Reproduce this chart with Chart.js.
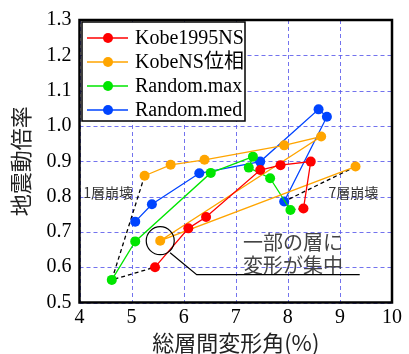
<!DOCTYPE html>
<html>
<head>
<meta charset="utf-8">
<script src="https://cdn.jsdelivr.net/npm/chart.js@4.4.1/dist/chart.umd.min.js"></script>
<style>
  body { margin: 0; background: #fff; }
  #wrap { width: 409px; height: 354px; }
</style>
</head>
<body>
<div id="wrap"><canvas id="myChart" width="409" height="354"></canvas></div>
<script>
// series values (x = drift %, y = ground motion factor)
const kobe1995X = [5.45, 6.09, 6.43, 7.47, 7.86, 8.44, 8.30];
const kobe1995Y = [0.600, 0.710, 0.742, 0.875, 0.889, 0.899, 0.766];
const kobeNsX = [5.25, 5.75, 6.40, 7.93, 8.64, 5.55, 9.30];
const kobeNsY = [0.859, 0.890, 0.904, 0.945, 0.970, 0.675, 0.885];
const randMaxX = [4.62, 5.07, 6.52, 7.33, 7.25, 7.66, 8.05];
const randMaxY = [0.564, 0.673, 0.867, 0.913, 0.882, 0.852, 0.762];
const randMedX = [5.07, 5.39, 6.30, 7.47, 8.59, 8.75, 7.93];
const randMedY = [0.729, 0.778, 0.866, 0.899, 1.047, 1.026, 0.786];

// dashed collapse links
const story1X = [5.25, 4.62, 5.45];
const story1Y = [0.859, 0.564, 0.600];
const story7X = [9.30, 7.93, 8.05, 8.30];
const story7Y = [0.885, 0.786, 0.762, 0.766];

const seriesNames = ['Kobe1995NS', 'KobeNS位相', 'Random.max', 'Random.med'];
const seriesColors = ['#ff0000', '#ffa500', '#00e600', '#0044ff'];

const xTicks = [4, 5, 6, 7, 8, 9, 10];
const yTicks = [0.5, 0.6, 0.7, 0.8, 0.9, 1.0, 1.1, 1.2, 1.3];

// annotation anchors in data units
const note1 = { text: '1層崩壊', x: 4.07, y: 0.812 };
const note7 = { text: '7層崩壊', x: 8.78, y: 0.812 };
const noteBig = { lines: ['一部の層に', '変形が集中'], x: 7.14, y: [0.670, 0.606] };
const circleAt = { x: 5.55, y: 0.675 };
const leaderX = [5.74, 6.25, 9.38];
const leaderY = [0.641, 0.579, 0.579];

const toPts = (xs, ys) => xs.map((v, i) => ({ x: v, y: ys[i] }));

function seriesSet(i, xs, ys) {
  return {
    label: seriesNames[i],
    data: toPts(xs, ys),
    showLine: true,
    borderColor: seriesColors[i],
    backgroundColor: seriesColors[i],
    borderWidth: 1.3,
    pointRadius: 5,
    pointBorderWidth: 0,
  };
}

function dashSet(xs, ys) {
  return {
    label: '',
    data: toPts(xs, ys),
    showLine: true,
    borderColor: '#000',
    borderWidth: 1.3,
    borderDash: [4, 3],
    pointRadius: 0,
  };
}

const data = {
  datasets: [
    seriesSet(0, kobe1995X, kobe1995Y),
    seriesSet(1, kobeNsX, kobeNsY),
    seriesSet(2, randMaxX, randMaxY),
    seriesSet(3, randMedX, randMedY),
    dashSet(story1X, story1Y),
    dashSet(story7X, story7Y),
  ],
};

const jp = '"Noto Sans CJK JP", "Noto Sans", sans-serif';
const serif = '"Liberation Serif", "Noto Sans CJK JP", serif';

// dashed blue grid, drawn from the scale ticks
const dashGrid = {
  id: 'dashGrid',
  beforeDatasetsDraw(chart) {
    const { ctx, chartArea: a, scales: { x, y } } = chart;
    ctx.save();
    ctx.strokeStyle = 'rgba(90, 90, 235, 0.85)';
    ctx.lineWidth = 1;
    ctx.setLineDash([4, 3]);
    x.ticks.forEach((t) => {
      const px = Math.round(x.getPixelForValue(t.value)) + 0.5;
      ctx.beginPath();
      ctx.moveTo(px, a.top);
      ctx.lineTo(px, a.bottom);
      ctx.stroke();
    });
    y.ticks.forEach((t) => {
      const py = Math.round(y.getPixelForValue(t.value)) + 0.5;
      ctx.beginPath();
      ctx.moveTo(a.left, py);
      ctx.lineTo(a.right, py);
      ctx.stroke();
    });
    ctx.restore();
  },
};

// frame, legend box and the notes
const extras = {
  id: 'extras',
  afterDatasetsDraw(chart) {
    const { ctx, chartArea: a, scales: { x, y } } = chart;
    ctx.save();

    // notes
    ctx.fillStyle = '#333';
    ctx.textBaseline = 'middle';
    ctx.textAlign = 'left';
    ctx.font = '14px ' + jp;
    ctx.fillText(note1.text, x.getPixelForValue(note1.x), y.getPixelForValue(note1.y));
    ctx.fillText(note7.text, x.getPixelForValue(note7.x), y.getPixelForValue(note7.y));
    ctx.fillStyle = '#444';
    ctx.font = '20px ' + jp;
    noteBig.lines.forEach((t, i) => {
      ctx.fillText(t, x.getPixelForValue(noteBig.x), y.getPixelForValue(noteBig.y[i]));
    });

    ctx.strokeStyle = '#000';
    ctx.lineWidth = 1.2;
    ctx.beginPath();
    ctx.arc(x.getPixelForValue(circleAt.x), y.getPixelForValue(circleAt.y), 14, 0, Math.PI * 2);
    ctx.stroke();
    ctx.beginPath();
    leaderX.forEach((v, i) => {
      const px = x.getPixelForValue(v), py = y.getPixelForValue(leaderY[i]);
      if (i === 0) ctx.moveTo(px, py); else ctx.lineTo(px, py);
    });
    ctx.stroke();

    // legend
    const lx = a.left + 2.5, ly = a.top + 2;
    ctx.fillStyle = '#fff';
    ctx.fillRect(lx, ly, 163, 99);
    ctx.lineWidth = 1.5;
    ctx.strokeRect(lx, ly, 163, 99);
    ctx.font = '20px ' + serif;
    seriesNames.forEach((name, i) => {
      const ry = ly + 16 + i * 24;
      ctx.strokeStyle = seriesColors[i];
      ctx.lineWidth = 1.3;
      ctx.beginPath();
      ctx.moveTo(lx + 5, ry);
      ctx.lineTo(lx + 46, ry);
      ctx.stroke();
      ctx.fillStyle = seriesColors[i];
      ctx.beginPath();
      ctx.arc(lx + 26, ry, 5, 0, Math.PI * 2);
      ctx.fill();
      ctx.fillStyle = '#000';
      ctx.fillText(name, lx + 53, ry + 1);
    });

    // frame
    ctx.strokeStyle = '#000';
    ctx.lineWidth = 2.5;
    ctx.strokeRect(a.left, a.top, a.right - a.left, a.bottom - a.top);
    ctx.restore();
  },
};

const config = {
  type: 'scatter',
  data,
  plugins: [dashGrid, extras],
  options: {
    responsive: false,
    animation: false,
    layout: { padding: { left: 0, top: 15, right: 17, bottom: 0 } },
    plugins: {
      legend: { display: false },
      tooltip: { enabled: false },
    },
    scales: {
      x: {
        min: 4,
        max: 10,
        afterBuildTicks: (s) => { s.ticks = xTicks.map((v) => ({ value: v })); },
        afterFit: (s) => { s.height = 51.5; },
        grid: { display: false, drawTicks: false },
        border: { display: false },
        ticks: { color: '#000', padding: 3, font: { family: serif, size: 20 } },
        title: {
          display: true,
          text: '総層間変形角(%)',
          color: '#222',
          font: { family: jp, size: 22, lineHeight: 1 },
          padding: { top: 0, bottom: 0 },
        },
      },
      y: {
        min: 0.5,
        max: 1.3,
        afterBuildTicks: (s) => { s.ticks = yTicks.map((v) => ({ value: v })); },
        afterFit: (s) => { s.width = 79.5; },
        grid: { display: false, drawTicks: false },
        border: { display: false },
        ticks: {
          color: '#000',
          padding: 8,
          font: { family: serif, size: 20 },
          callback: (v) => v.toFixed(1),
        },
        title: {
          display: true,
          text: '地震動倍率',
          color: '#222',
          font: { family: jp, size: 22, lineHeight: 1 },
          padding: { top: 10, bottom: 0 },
        },
      },
    },
  },
};

new Chart(document.getElementById('myChart'), config);
</script>
</body>
</html>
